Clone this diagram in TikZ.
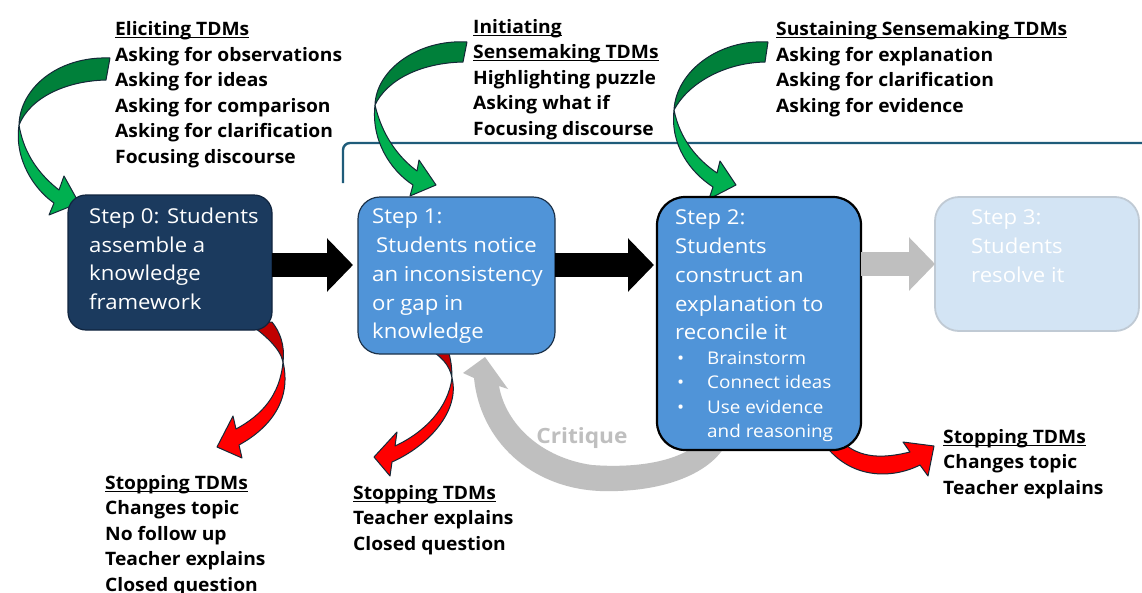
\documentclass[tikz,border=0pt]{standalone}
\usepackage{fontspec}
\setmainfont{Open Sans}
\newfontfamily\tdmfont[FakeStretch=1.04]{Open Sans}
\newfontfamily\stepfont[FakeStretch=1.08]{Open Sans}
\usepackage{calc}
\usetikzlibrary{arrows.meta,calc}

\definecolor{navybox}{RGB}{27,58,94}
\definecolor{navyedge}{RGB}{16,36,62}
\definecolor{midblue}{RGB}{80,148,216}
\definecolor{midedge}{RGB}{28,50,74}
\definecolor{paleblue}{RGB}{211,228,244}
\definecolor{paleedge}{RGB}{192,202,212}
\definecolor{tealrule}{RGB}{31,92,122}
\definecolor{greenfront}{RGB}{0,176,80}
\definecolor{greenback}{RGB}{0,128,58}
\definecolor{redfront}{RGB}{255,0,0}
\definecolor{redback}{RGB}{192,0,0}
\definecolor{shapeedge}{RGB}{20,40,55}
\definecolor{critgray}{RGB}{191,191,191}

% underline sitting close to the baseline
\newcommand{\ulin}[1]{\leavevmode\rlap{\rule[-2.6pt]{\widthof{#1}}{1.1pt}}#1}

\tikzset{
  stepbox/.style={rounded corners=#1, inner sep=0pt, outer sep=0pt},
  tdm/.style={anchor=north west, inner sep=0pt, align=left,
    font=\tdmfont\fontsize{18.5}{25.5}\selectfont\bfseries},
  boxtxt/.style={anchor=north west, inner sep=0pt, align=left, text=white,
    font=\stepfont\fontsize{20.5}{28.8}\selectfont},
  bullettxt/.style={anchor=north west, inner sep=0pt, align=left, text=white,
    font=\stepfont\fontsize{17.5}{24.3}\selectfont},
  blockarrow/.style={line width=24pt, draw=#1,
    -{Triangle[length=26pt,width=52pt]}},
  greenback/.style={fill=greenback, draw=shapeedge, line width=1pt, line join=round},
  greenfront/.style={fill=greenfront, draw=shapeedge, line width=1pt, line join=round},
  redback/.style={fill=redback, draw=shapeedge, line width=1pt, line join=round},
  redfront/.style={fill=redfront, draw=shapeedge, line width=1pt, line join=round},
}

\begin{document}
\begin{tikzpicture}[x=1pt,y=-1pt]
\useasboundingbox (0,0) rectangle (1142,592);
\fill[white] (0,0) rectangle (1142,592);

% bracket rule over steps 1-3
\draw[tealrule, line width=2.4pt, rounded corners=7pt] (343,183) -- (343,143) -- (1142,143);

% green curved arrows (twisted bands)
\path[greenback] (110,58) .. controls (58,56) and (20,88) .. (19,125)
  .. controls (30,98) and (65,81) .. (106,80) -- cycle;
\path[greenfront] (19,125) .. controls (14,160) and (35,190) .. (54,203)
  -- (49,215) -- (79,203) -- (64,176) -- (59,190)
  .. controls (40,175) and (24,155) .. (19,125) -- cycle;

\path[greenback] (467,42) .. controls (418,39) and (376,70) .. (375,105)
  .. controls (387,80) and (420,63) .. (463,62) -- cycle;
\path[greenfront] (375,105) .. controls (371,140) and (390,170) .. (413,185)
  -- (410,196) -- (436,185) -- (419,160) -- (417,171)
  .. controls (398,157) and (382,135) .. (375,105) -- cycle;

\path[greenback] (768,42) .. controls (718,39) and (676,72) .. (674,110)
  .. controls (687,85) and (722,63) .. (765,62) -- cycle;
\path[greenfront] (674,110) .. controls (670,145) and (690,172) .. (713,187)
  -- (709,199) -- (736,185) -- (720,161) -- (717,173)
  .. controls (698,160) and (680,140) .. (674,110) -- cycle;

% red curved arrows
\path[redback] (247,322) .. controls (265,335) and (280,348) .. (283,362)
  .. controls (285,345) and (280,332) .. (272,322) -- cycle;
\path[redfront] (283,362) .. controls (292,400) and (270,428) .. (239,445)
  -- (242,458) -- (217,447) -- (233,416) -- (236,429)
  .. controls (262,415) and (280,395) .. (283,362) -- cycle;

\path[redback] (427,348) .. controls (440,355) and (450,365) .. (452,378)
  .. controls (452,365) and (450,355) .. (447,348) -- cycle;
\path[redfront] (452,378) .. controls (460,410) and (430,445) .. (392,462)
  -- (390,476) -- (374,457) -- (397,432) -- (395,446)
  .. controls (425,432) and (448,408) .. (452,378) -- cycle;

\path[redfront] (840,440) .. controls (860,460) and (885,458) .. (910,452)
  -- (903,442) -- (934,446) -- (928,476) -- (920,465)
  .. controls (890,480) and (850,478) .. (825,445) -- cycle;

% critique loop from step 2 back to step 1
\fill[critgray] (474,378) .. controls (480,440) and (530,488) .. (600,491)
  .. controls (660,493) and (708,475) .. (725,446) -- (695,446)
  .. controls (672,463) and (632,468) .. (592,465)
  .. controls (542,458) and (506,425) .. (499,386)
  -- (508,389) -- (485,357) -- (463,373) -- cycle;
\node[text=critgray, font=\stepfont\fontsize{21}{24}\selectfont\bfseries] (crit) at (582,438) {Critique};

% step boxes
\node[stepbox=18pt, fill=navybox, draw=navyedge, line width=1.2pt,
  minimum width=204pt, minimum height=135pt] (s0) at (170,262.5) {};
\node[stepbox=22pt, fill=midblue, draw=midedge, line width=1.2pt,
  minimum width=197pt, minimum height=157pt] (s1) at (456.5,275.5) {};
\node[stepbox=28pt, fill=midblue, draw=black, line width=2.2pt,
  minimum width=204pt, minimum height=253pt] (s2) at (759,323.5) {};
\node[stepbox=24pt, fill=paleblue, draw=paleedge, line width=1.8pt,
  minimum width=204pt, minimum height=134pt] (s3) at (1037,264) {};

% block arrows between steps
\coordinate (ya) at (0,265);
\coordinate (yb) at (0,264);
\draw[blockarrow=black, shorten >=5pt] (s0.east |- ya) -- (s1.west |- ya);
\draw[blockarrow=black, shorten >=3pt] (s1.east |- ya) -- (s2.west |- ya);
\draw[blockarrow=critgray] (s2.east |- yb) -- (s3.west |- yb);

% step texts
\node[boxtxt] (t0) at (89,207.5) {Step 0: Students\\assemble a\\knowledge\\framework};
\node[boxtxt] (t1) at (372,208.7) {Step 1:\\\hspace*{4pt}Students notice\\an inconsistency\\or gap in\\knowledge};
\node[boxtxt] (t2) at (675,209.7) {Step 2:\\Students\\construct an\\explanation to\\reconcile it};
\node[bullettxt] (t2b) at (677,351.6) {\makebox[30pt][l]{\textbullet}Brainstorm\\\makebox[30pt][l]{\textbullet}Connect ideas\\\makebox[30pt][l]{\textbullet}Use evidence\\\hspace*{30pt}and reasoning};
\node[boxtxt] (t3) at (971,209.7) {Step 3:\\Students\\resolve it};

% talk move lists
\node[tdm] (elic) at (115,21.5) {\ulin{Eliciting TDMs}\\Asking for observations\\Asking for ideas\\Asking for comparison\\Asking for clarification\\Focusing discourse};
\node[tdm] (init) at (473,18.8) {\ulin{Initiating}\\\ulin{Sensemaking TDMs}\\Highlighting puzzle\\Asking what if\\Focusing discourse};
\node[tdm] (sust) at (776,21.3) {\ulin{Sustaining Sensemaking TDMs}\\Asking for explanation\\Asking for clarification\\Asking for evidence};
\node[tdm] (stopa) at (105,474.8) {\ulin{Stopping TDMs}\\Changes topic\\No follow up\\Teacher explains\\Closed question};
\node[tdm] (stopb) at (353,484.8) {\ulin{Stopping TDMs}\\Teacher explains\\Closed question};
\node[tdm] (stopc) at (943,428.8) {\ulin{Stopping TDMs}\\Changes topic\\Teacher explains};
\end{tikzpicture}
\end{document}
